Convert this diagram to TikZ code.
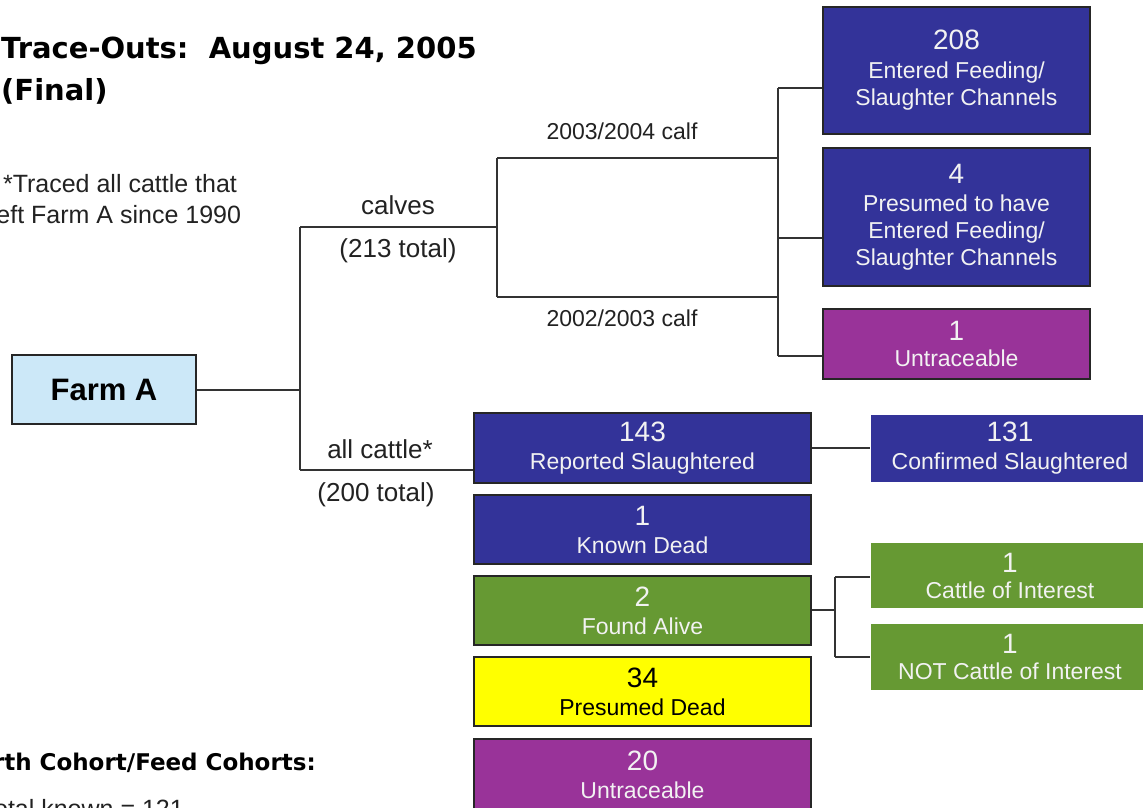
\documentclass[tikz,border=0pt]{standalone}
\usepackage{fontspec}
\setmainfont{Liberation Sans}
\newfontfamily\titlefont{DejaVu Sans}
\definecolor{boxblue}{HTML}{333399}
\definecolor{boxpurple}{HTML}{993399}
\definecolor{boxgreen}{HTML}{669933}
\definecolor{boxyellow}{HTML}{FFFF00}
\definecolor{farmblue}{HTML}{CCE8F8}
\definecolor{linegray}{HTML}{333333}
\definecolor{txtgray}{HTML}{222222}
\definecolor{boxtxt}{HTML}{F2F2F2}
\newcommand{\numf}{\fontsize{28}{30}\selectfont}
\newcommand{\labf}{\fontsize{23}{27}\selectfont}
\tikzset{
  x=1pt, y=-1pt,
  tbox/.style={draw=black!85, line width=1.5pt, inner sep=0pt, align=center,
    text=boxtxt, font=\labf},
  bluebox/.style={tbox, fill=boxblue},
  purplebox/.style={tbox, fill=boxpurple},
  greenbox/.style={tbox, fill=boxgreen},
  yellowbox/.style={tbox, fill=boxyellow, text=black},
  conn/.style={draw=linegray, line width=1.6pt},
  lbl/.style={text=txtgray, font=\fontsize{26}{28}\selectfont, inner sep=0pt},
  clbl/.style={text=txtgray, font=\fontsize{23}{26}\selectfont, inner sep=0pt},
}
\begin{document}
\begin{tikzpicture}
\useasboundingbox (0,0) rectangle (1143,808);
\clip (0,0) rectangle (1143,808);
\fill[white] (0,0) rectangle (1143,808);

% title
\node[anchor=base west, inner sep=0pt, font=\titlefont\bfseries\fontsize{29}{32}\selectfont] (title1) at (1,59) {Trace-Outs:\ \ August 24, 2005};
\node[anchor=base west, inner sep=0pt, font=\titlefont\bfseries\fontsize{29}{32}\selectfont] (title2) at (1,100) {(Final)};

% note
\node[anchor=base, inner sep=0pt, text=txtgray, font=\fontsize{25}{28}\selectfont] (note1) at (120,192) {*Traced all cattle that};
\node[anchor=base, inner sep=0pt, text=txtgray, font=\fontsize{25}{28}\selectfont] (note2) at (116,223) {left Farm A since 1990};

% bottom text
\node[anchor=base east, inner sep=0pt, font=\titlefont\bfseries\fontsize{23}{26}\selectfont] (cohort) at (316,770) {Birth Cohort/Feed Cohorts:};
\node[anchor=base east, inner sep=0pt, text=txtgray, font=\fontsize{25}{28}\selectfont] (known) at (184,817) {Total known = 121};

% boxes
\node[tbox, fill=farmblue, text=black, font=\bfseries\fontsize{31}{33}\selectfont,
  minimum width=184, minimum height=69] (farm) at (104,389.5) {Farm A};

\node[bluebox, minimum width=267, minimum height=127] (b208) at (956.5,70.5)
  {{\numf 208}\\[2pt] Entered Feeding/\\ Slaughter Channels};
\node[bluebox, minimum width=267, minimum height=138] (b4) at (956.5,217)
  {{\numf 4}\\[1pt] Presumed to have\\ Entered Feeding/\\ Slaughter Channels};
\node[purplebox, minimum width=267, minimum height=70] (bu1) at (956.5,344)
  {{\numf 1}\\[-1pt] Untraceable};

\node[bluebox, minimum width=337, minimum height=70] (b143) at (642.5,448)
  {{\numf 143}\\[1pt] Reported Slaughtered};
\node[bluebox, draw=none, minimum width=278, minimum height=67] (b131) at (1010,448)
  {{\numf 131}\\[1pt] Confirmed Slaughtered};
\node[bluebox, minimum width=337, minimum height=69] (bkd) at (642.5,529.5)
  {{\numf 1}\\[1pt] Known Dead};
\node[greenbox, minimum width=337, minimum height=69] (bfa) at (642.5,610.5)
  {{\numf 2}\\[1pt] Found Alive};
\node[yellowbox, minimum width=337, minimum height=69] (bpd) at (642.5,691.5)
  {{\numf 34}\\[1pt] Presumed Dead};
\node[purplebox, minimum width=337, minimum height=72] (bu20) at (642.5,775)
  {{\numf 20}\\[1pt] Untraceable};
\node[greenbox, draw=none, minimum width=278, minimum height=65] (bci) at (1010,575.5)
  {{\numf 1}\\[-1pt] Cattle of Interest};
\node[greenbox, draw=none, minimum width=278, minimum height=66] (bnci) at (1010,657)
  {{\numf 1}\\[-1pt] NOT Cattle of Interest};

% junction coordinates
\coordinate (j1) at (300,390);
\coordinate (j1t) at (300,227);
\coordinate (j1b) at (300,470);
\coordinate (j2) at (497,227);
\coordinate (j2t) at (497,158);
\coordinate (j2b) at (497,297);
\coordinate (j3t) at (778,158);
\coordinate (j3b) at (778,297);
\coordinate (j3top) at (778,88);
\coordinate (j3bot) at (778,356);
\coordinate (j3mid) at (778,238);
\coordinate (j4) at (835,610);
\coordinate (j4t) at (835,577);
\coordinate (j4b) at (835,657);

% connectors
\draw[conn] (farm.east |- j1) -- (j1);
\draw[conn] (j1t) -- (j1b);
\draw[conn] (j1t) -- (j2);
\draw[conn] (j1b) -- (j1b -| b143.west);
\draw[conn] (j2t) -- (j2b);
\draw[conn] (j2t) -- (j3t);
\draw[conn] (j2b) -- (j3b);
\draw[conn] (j3top) -- (j3bot);
\draw[conn] (j3top) -- (j3top -| b208.west);
\draw[conn] (j3mid) -- (j3mid -| b4.west);
\draw[conn] (j3bot) -- (j3bot -| bu1.west);
\draw[conn] (b143.east) -- (b131.west);
\draw[conn] (bfa.east |- j4) -- (j4);
\draw[conn] (j4t) -- (j4b);
\draw[conn] (j4t) -- (j4t -| bci.west);
\draw[conn] (j4b) -- (j4b -| bnci.west);

% branch labels
\node[lbl] (lcalves) at (398,205) {calves};
\node[lbl] (l213) at (398,251) {(213 total)};
\node[lbl] (lall) at (380,449) {all cattle*};
\node[lbl] (l200) at (376,495) {(200 total)};
\node[clbl] (l0304) at (622,131) {2003/2004 calf};
\node[clbl] (l0203) at (622,318) {2002/2003 calf};
\end{tikzpicture}
\end{document}
